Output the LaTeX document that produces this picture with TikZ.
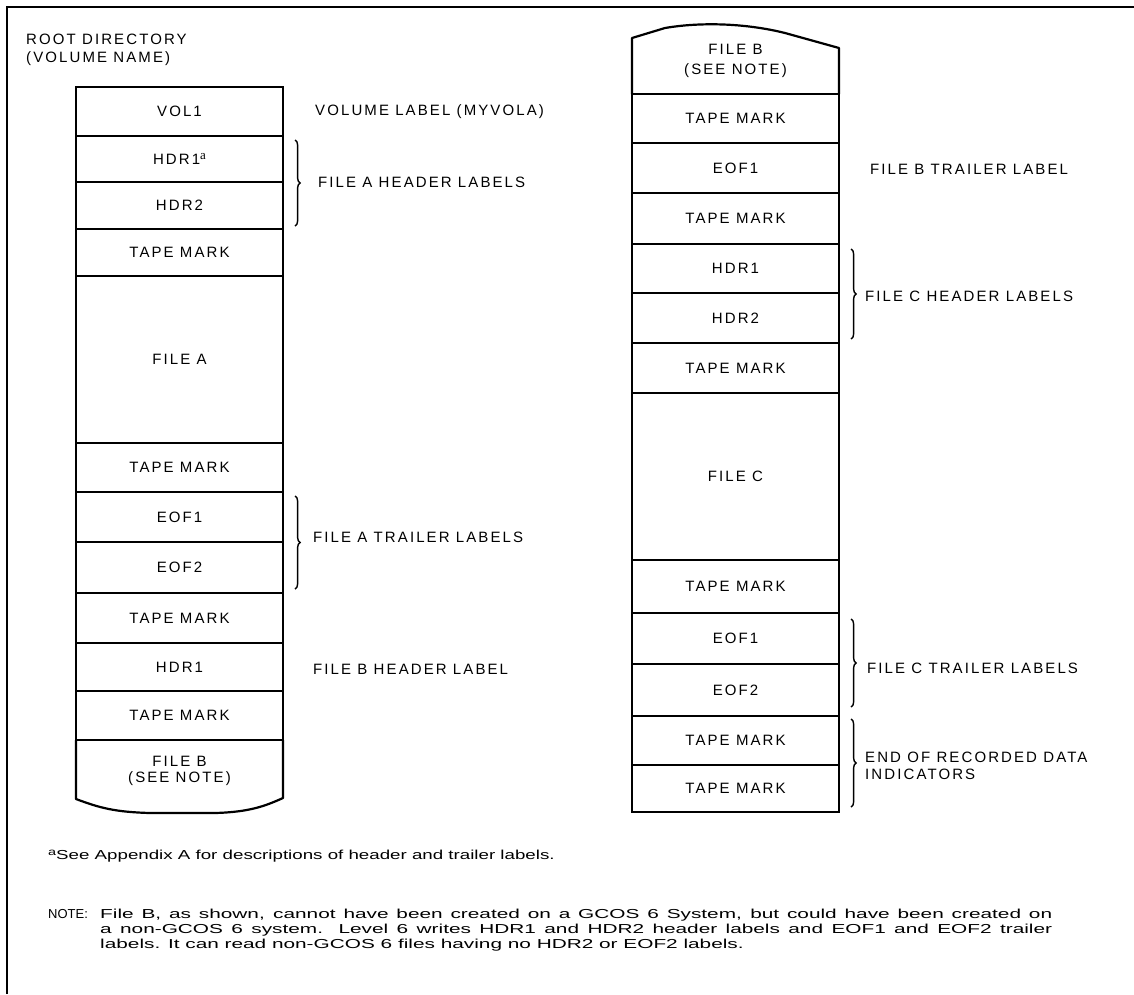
\documentclass[tikz,border=0pt]{standalone}
\usepackage{fontspec}
\setmainfont{Liberation Sans}
\newfontfamily\lab[LetterSpace=14]{Liberation Sans}
\newfontfamily\notefont[FakeStretch=1.6]{Liberation Sans}
\newfontfamily\fnfont[FakeStretch=1.44]{Liberation Sans}
\newfontfamily\supfont{Liberation Serif}
\usetikzlibrary{decorations.pathreplacing,calc}
\begin{document}
\begin{tikzpicture}[x=1pt,y=-1pt,
  cell/.style={draw, line width=2.2pt, minimum width=207pt, inner sep=0pt,
    font=\lab\fontsize{15}{18}\selectfont, align=center},
  side/.style={anchor=west, inner sep=0pt, font=\lab\fontsize{15}{18}\selectfont, align=left},
  brc/.style={decorate, decoration={brace, amplitude=5pt}, line width=1.4pt},
  outline/.style={line width=2.2pt, line join=round},
  note/.style={anchor=base west, inner sep=0pt, font=\notefont\fontsize{13}{15}\selectfont},
]
\useasboundingbox (0,0) rectangle (1134,994);
% frame
\draw[line width=2pt] (7,994) -- (7,7) -- (1134,7);
% title
\node[anchor=north west, inner sep=0pt, align=left, font=\lab\fontsize{15}{18}\selectfont] (title) at (26,34) {ROOT DIRECTORY\\(VOLUME NAME)};
% left column
\node[cell, minimum height=49pt]  (lvol) at (179.5,111.5) {VOL1};
\node[cell, minimum height=46pt]  (lh1)  at (179.5,159)   {HDR1\raisebox{0.6ex}{\supfont\fontsize{13}{13}\selectfont a}};
\node[cell, minimum height=47pt]  (lh2)  at (179.5,205.5) {HDR2};
\node[cell, minimum height=47pt]  (ltm1) at (179.5,252.5) {TAPE MARK};
\node[cell, minimum height=167pt] (lfa)  at (179.5,359.5) {FILE A};
\node[cell, minimum height=49pt]  (ltm2) at (179.5,467.5) {TAPE MARK};
\node[cell, minimum height=50pt]  (le1)  at (179.5,517)   {EOF1};
\node[cell, minimum height=51pt]  (le2)  at (179.5,567.5) {EOF2};
\node[cell, minimum height=50pt]  (ltm3) at (179.5,618)   {TAPE MARK};
\node[cell, minimum height=48pt]  (lh3)  at (179.5,667)   {HDR1};
\node[cell, minimum height=49pt]  (ltm4) at (179.5,715.5) {TAPE MARK};
\draw[outline] (76,740) -- (76,799) .. controls (100,808) and (115,812) .. (150,813) -- (215,813) .. controls (250,812) and (265,806) .. (283,798) -- (283,740);
\node[align=center, inner sep=0pt, font=\lab\fontsize{15}{16}\selectfont] (lfb) at (179.5,771) {FILE B\\(SEE NOTE)};
% left labels
\node[side] (tvol) at (315,112) {VOLUME LABEL (MYVOLA)};
\draw[brc] ($(lh1.north east)+(11,5)$) -- ($(lh2.south east)+(11,-4)$);
\node[side] (tfah) at (318,182) {FILE A HEADER LABELS};
\draw[brc] ($(le1.north east)+(11,5)$) -- ($(le2.south east)+(11,-5)$);
\node[side] (tfat) at (313,537) {FILE A TRAILER LABELS};
\node[side] (tfbh) at (313,669) {FILE B HEADER LABEL};
% right column
\draw[outline] (632,94) -- (632,38) -- (665,28) .. controls (700,22) and (745,23) .. (785,33) -- (839,48) -- (839,94);
\node[align=center, inner sep=0pt, font=\lab\fontsize{15}{20}\selectfont] (rfb) at (735.5,61) {FILE B\\(SEE NOTE)};
\node[cell, minimum height=49pt]  (rtm1) at (735.5,118.5) {TAPE MARK};
\node[cell, minimum height=50pt]  (re1)  at (735.5,168)   {EOF1};
\node[cell, minimum height=51pt]  (rtm2) at (735.5,218.5) {TAPE MARK};
\node[cell, minimum height=49pt]  (rh1)  at (735.5,268.5) {HDR1};
\node[cell, minimum height=50pt]  (rh2)  at (735.5,318)   {HDR2};
\node[cell, minimum height=50pt]  (rtm3) at (735.5,368)   {TAPE MARK};
\node[cell, minimum height=167pt] (rfc)  at (735.5,476.5) {FILE C};
\node[cell, minimum height=53pt]  (rtm4) at (735.5,586.5) {TAPE MARK};
\node[cell, minimum height=51pt]  (re2)  at (735.5,638.5) {EOF1};
\node[cell, minimum height=52pt]  (re3)  at (735.5,690)   {EOF2};
\node[cell, minimum height=49pt]  (rtm5) at (735.5,740.5) {TAPE MARK};
\node[cell, minimum height=47pt]  (rtm6) at (735.5,788.5) {TAPE MARK};
% right labels
\node[side] (tfbt) at (870,169) {FILE B TRAILER LABEL};
\draw[brc] ($(rh1.north east)+(11,6)$) -- ($(rh2.south east)+(11,-5)$);
\node[side] (tfch) at (865,296) {FILE C HEADER LABELS};
\draw[brc] ($(re2.north east)+(11,7)$) -- ($(re3.south east)+(11,-10)$);
\node[side] (tfct) at (867,668) {FILE C TRAILER LABELS};
\draw[brc] ($(rtm5.north east)+(11,4)$) -- ($(rtm6.south east)+(11,-6)$);
\node[anchor=north west, inner sep=0pt, align=left, font=\lab\fontsize{15}{17}\selectfont] (tend) at (865,752) {END OF RECORDED DATA\\INDICATORS};
% footnotes
\node[note, font=\fnfont\fontsize{13}{15}\selectfont] (fn) at (48,859) {\raisebox{0.5ex}{\fontsize{10}{10}\selectfont a}See Appendix A for descriptions of header and trailer labels.};
\node[note, font=\fontsize{13}{15}\selectfont] (nt) at (48,918) {NOTE:};
\node[note] (n1) at (100,918) {\makebox[952pt][s]{File B, as shown, cannot have been created on a GCOS 6 System, but could have been created on}};
\node[note] (n2) at (100,933) {\makebox[952pt][s]{a non-GCOS 6 system. Level 6 writes HDR1 and HDR2 header labels and EOF1 and EOF2 trailer}};
\node[note] (n3) at (100,948) {labels. It can read non-GCOS 6 files having no HDR2 or EOF2 labels.};
\end{tikzpicture}
\end{document}
